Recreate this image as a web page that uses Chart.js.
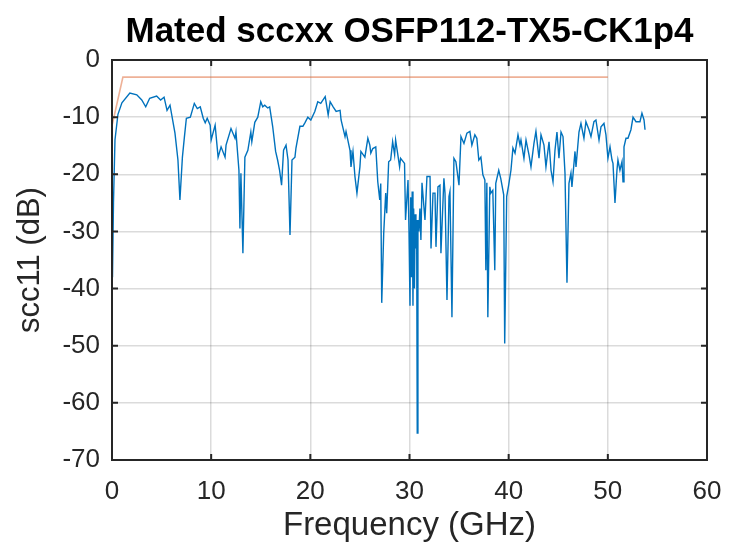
<!DOCTYPE html>
<html>
<head>
<meta charset="utf-8">
<script src="https://cdn.jsdelivr.net/npm/chart.js@4.4.1/dist/chart.umd.min.js"></script>
<style>
  html, body { margin: 0; padding: 0; background: #fff; }
  #wrap { width: 731px; height: 549px; position: relative; }
</style>
</head>
<body>
<div id="wrap"><canvas id="s11"></canvas></div>
<script>
// Tick values
const xTicks = [0, 10, 20, 30, 40, 50, 60];
const yTicks = [0, -10, -20, -30, -40, -50, -60, -70];

// Limit mask (orange)
const maskFreq = [0, 1.1, 50];
const maskDb = [-11.5, -3, -3];

const freqA = [0.05, 0.15, 0.3, 0.6, 1.0, 1.8, 2.5, 3.0, 3.4, 3.8, 4.5, 4.9, 5.25, 5.55, 5.85, 6.35, 6.65, 6.85, 7.1, 7.3, 7.5, 7.9, 8.3, 8.6, 8.9, 9.2, 9.4, 9.6, 9.9];
const s11A = [-38, -25, -14, -9.5, -7.5, -5.8, -6.1, -7, -8.2, -6.7, -6.3, -7, -6.5, -8.8, -7.9, -12.8, -17.5, -24.5, -17, -13.5, -10.2, -10, -7.6, -8.5, -8.2, -10.2, -11, -10.2, -11.4];

const freqB = [10.0, 10.4, 10.7, 11.0, 11.4, 11.5, 12.0, 12.4, 12.5, 12.8, 12.9, 13.0, 13.2, 13.4, 13.7, 14.0, 14.1, 14.4, 14.7, 15.0, 15.2, 15.4, 15.7, 15.9, 16.2, 16.5, 16.7, 16.9, 17.1, 17.3, 17.55, 17.75, 17.95, 18.15, 18.45, 18.55, 18.95, 19.25, 19.45, 19.75];
const s11B = [-14, -11.4, -17, -15.2, -17, -14.9, -12, -13.7, -12.6, -19.3, -29.5, -19.8, -33.8, -17, -15.8, -12.6, -14.3, -10.9, -10, -7.3, -8.2, -7.9, -8.4, -8.2, -11.6, -16, -17.5, -19.3, -21.9, -15.8, -14.9, -17.5, -30.6, -17.5, -17, -15.4, -11.6, -11.6, -11, -10];

const freqC = [20.05, 20.45, 20.75, 21.05, 21.5, 21.8, 22.0, 22.3, 22.6, 23.0, 23.1, 23.5, 23.6, 24.0, 24.1, 24.3, 24.5, 24.7, 25.0, 25.1, 25.5, 25.8, 26.0, 26.1, 26.3, 26.6, 26.8, 27.0, 27.1, 27.2, 27.4, 27.6, 27.7, 27.9, 28.1, 28.3, 28.5, 28.6, 28.8, 29.0, 29.1, 29.5, 29.6, 29.85, 29.95];
const s11C = [-10.5, -9, -7.3, -7.6, -6.4, -9.6, -7.3, -8.2, -9, -8.8, -10.5, -13.4, -12.5, -15.8, -18.7, -16, -20.4, -23.3, -18.7, -16, -17, -13.7, -14.9, -16.3, -15.5, -15.2, -21.3, -24.5, -21.6, -42.5, -30.3, -23.3, -26.8, -17.8, -17.5, -14.3, -16.6, -14, -16.3, -18.7, -17.2, -18.1, -28, -21, -30];

const freqD = [30.05, 30.12, 30.2, 30.27, 30.35, 30.42, 30.5, 30.57, 30.65, 30.72, 30.78, 30.85, 30.95, 31.05, 31.15, 31.26, 31.56, 31.76, 32.07, 32.17, 32.37, 32.57, 32.67, 32.87, 33.07, 33.17, 33.47, 33.58, 33.78, 33.98, 34.08, 34.28, 34.48, 34.68, 34.99, 35.19, 35.49, 35.79, 36.09, 36.29, 36.59, 36.79, 36.99, 37.2, 37.4, 37.6, 37.7, 37.8, 37.9, 38.1, 38.2, 38.4, 38.6, 38.7, 39.0, 39.2, 39.5, 39.6, 39.8];
const s11D = [-43, -24, -38, -23, -43, -26, -40, -27, -33, -28, -65.3, -28, -30, -26, -31.5, -21.5, -28, -20.4, -20.4, -33, -23.3, -23.3, -32.7, -22.2, -21.9, -33.8, -20.7, -23.3, -42, -23.9, -23, -45, -17.2, -17.8, -21.9, -13.4, -14.6, -12.8, -12.5, -14.9, -13.1, -13.7, -17.5, -17, -20.1, -21, -36.8, -21.5, -45, -22.2, -23.3, -22.8, -36.8, -21.6, -19.3, -20.7, -23.6, -49.6, -23.9];

const freqE = [40.0, 40.23, 40.43, 40.64, 40.94, 41.14, 41.24, 41.54, 41.75, 42.05, 42.25, 42.55, 42.75, 43.06, 43.26, 43.56, 43.76, 44.07, 44.27, 44.47, 44.67, 44.87, 45.07, 45.28, 45.48, 45.68, 45.88, 46.08, 46.28, 46.38, 46.69, 46.79, 47.09, 47.29, 47.59, 47.79, 48.1, 48.3, 48.6, 48.8, 49.11, 49.31, 49.61, 49.81, 50.01];
const s11E = [-21.9, -19.3, -15.4, -16.3, -13.1, -14.9, -14, -17.2, -14, -16.6, -18.7, -14.6, -12.5, -17.2, -13.1, -14.9, -18.7, -14.3, -19.3, -21.3, -15.8, -12.6, -17.2, -12.6, -13.4, -19.8, -39, -21.6, -19.8, -22.2, -16, -18.7, -12.6, -11.1, -13.7, -10.8, -12.2, -13.4, -10.8, -10.5, -14, -11.7, -11.1, -13.1, -17.2];

const freqF = [50.22, 50.42, 50.52, 50.72, 50.92, 51.02, 51.22, 51.43, 51.53, 51.63, 51.83, 52.03, 52.33, 52.54, 52.84, 53.04, 53.24, 53.44, 53.65, 53.75];
const s11F = [-15.2, -17.5, -18.1, -25, -19.3, -17.5, -19.3, -17.8, -21.3, -15.2, -13.7, -13.7, -12.2, -10, -10.8, -10.8, -10.8, -9.3, -10.5, -12.2];


const freq = [].concat(freqA, freqB, freqC, freqD, freqE, freqF);
const s11 = [].concat(s11A, s11B, s11C, s11D, s11E, s11F);

const toXY = (xs, ys) => xs.map((v, i) => ({ x: v, y: ys[i] }));

const FONT = "'Liberation Sans', Arial, Helvetica, sans-serif";

// MATLAB style box with inward ticks on all four sides
const boxFrame = {
    id: 'boxFrame',
    afterDraw(chart) {
        const { ctx, chartArea: a, scales: { x, y } } = chart;
        ctx.save();
        ctx.strokeStyle = '#262626';
        ctx.lineWidth = 2;
        ctx.strokeRect(a.left, a.top, a.right - a.left, a.bottom - a.top);
        ctx.beginPath();
        xTicks.forEach((v) => {
            const px = x.getPixelForValue(v);
            ctx.moveTo(px, a.bottom); ctx.lineTo(px, a.bottom - 6);
            ctx.moveTo(px, a.top); ctx.lineTo(px, a.top + 6);
        });
        yTicks.forEach((v) => {
            const py = y.getPixelForValue(v);
            ctx.moveTo(a.left, py); ctx.lineTo(a.left + 6, py);
            ctx.moveTo(a.right, py); ctx.lineTo(a.right - 6, py);
        });
        ctx.stroke();
        ctx.restore();
    }
};

new Chart(document.getElementById('s11'), {
    type: 'line',
    data: {
        datasets: [
            {
                label: 'scc11',
                data: toXY(freq, s11),
                borderColor: '#0072BD',
                borderWidth: 1.4,
                pointRadius: 0,
                tension: 0
            },
            {
                label: 'limit',
                data: toXY(maskFreq, maskDb),
                borderColor: 'rgba(217, 83, 25, 0.45)',
                borderWidth: 1.6,
                pointRadius: 0,
                tension: 0
            }
        ]
    },
    options: {
        responsive: true,
        maintainAspectRatio: false,
        animation: false,
        devicePixelRatio: 1,
        layout: {
            padding: { left: 0, right: 24, top: 0, bottom: 0 }
        },
        plugins: {
            legend: { display: false },
            tooltip: { enabled: false },
            title: {
                display: true,
                fullSize: false,
                text: 'Mated sccxx OSFP112-TX5-CK1p4',
                color: '#000',
                font: { family: FONT, size: 35, weight: 'bold' },
                padding: { top: 11, bottom: 7 }
            }
        },
        scales: {
            x: {
                type: 'linear',
                min: 0,
                max: 60,
                afterFit(scale) {
                    scale.height = 89;
                    // tick padding should not push the plot box in from the right
                    scale.paddingLeft = 0;
                    scale.paddingRight = 0;
                },
                afterBuildTicks(scale) { scale.ticks = xTicks.map((v) => ({ value: v })); },
                grid: { color: 'rgba(0,0,0,0.14)', lineWidth: 1.5, drawTicks: false },
                border: { display: false },
                ticks: {
                    color: '#262626',
                    padding: 16,
                    maxRotation: 0,
                    font: { family: FONT, size: 26 }
                },
                title: {
                    display: true,
                    text: 'Frequency (GHz)',
                    color: '#262626',
                    font: { family: FONT, size: 33 },
                    padding: { top: 0, bottom: 3 }
                }
            },
            y: {
                type: 'linear',
                min: -70,
                max: 0,
                afterFit(scale) { scale.width = 112; },
                afterBuildTicks(scale) { scale.ticks = yTicks.map((v) => ({ value: v })); },
                grid: { color: 'rgba(0,0,0,0.14)', lineWidth: 1.5, drawTicks: false },
                border: { display: false },
                ticks: {
                    color: '#262626',
                    padding: 12,
                    font: { family: FONT, size: 26 }
                },
                title: {
                    display: true,
                    text: 'scc11 (dB)',
                    color: '#262626',
                    font: { family: FONT, size: 31 },
                    padding: { top: 12, bottom: 0 }
                }
            }
        }
    },
    plugins: [boxFrame]
});
</script>
</body>
</html>
